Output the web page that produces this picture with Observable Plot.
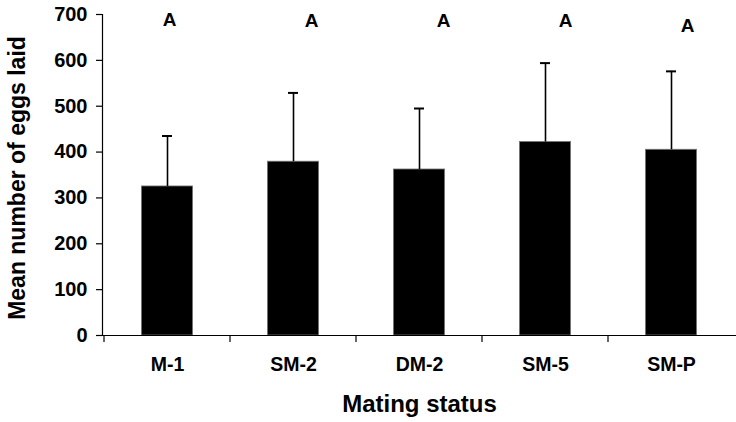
<!DOCTYPE html>
<html>
<head>
<meta charset="utf-8">
<script src="https://cdn.jsdelivr.net/npm/d3@7"></script>
<script src="https://cdn.jsdelivr.net/npm/@observablehq/plot@0.6"></script>
<style>
  html, body { margin: 0; padding: 0; background: #fff; }
  #chart svg { display: block; }
</style>
</head>
<body>
<div id="chart"></div>
<script>
// ---- data ----
const categories = ["M-1", "SM-2", "DM-2", "SM-5", "SM-P"];
const means = [325, 379, 362, 422, 405];
const upperErrors = [435, 529, 495, 594, 576];
const letters = ["A", "A", "A", "A", "A"];
const letterValues = [688, 687, 685, 685, 675];
const yTicks = [0, 100, 200, 300, 400, 500, 600, 700];

// ---- layout (not data) ----
const letterShift = [2, 18, 24, 20, 16];
const font = "'Liberation Sans', Arial, Helvetica, sans-serif";

const rows = categories.map((c, i) => ({
  category: c, mean: means[i], upper: upperErrors[i],
  letter: letters[i], letterY: letterValues[i]
}));

// boundary ticks under the x axis, at band edges
function boundaryTicks(index, scales, values, dimensions) {
  const g = d3.create("svg:g");
  const y0 = scales.y(0);
  for (const c of categories) {
    const xs = scales.x(c);
    g.append("line")
      .attr("x1", xs).attr("x2", xs)
      .attr("y1", y0).attr("y2", y0 + 7)
      .attr("stroke", "#000").attr("stroke-width", 1.2);
  }
  return g.node();
}

const chart = Plot.plot({
  width: 736,
  height: 422,
  marginLeft: 102,
  marginRight: 0,
  marginTop: 14,
  marginBottom: 87,
  style: { fontFamily: font, fontWeight: "bold", background: "#fff", color: "#000" },
  x: { type: "band", domain: categories, padding: 0 },
  y: { domain: [0, 700] },
  marks: [
    Plot.frame({ anchor: "left", stroke: "#000", strokeWidth: 1.2 }),
    Plot.axisY({ ticks: yTicks, tickSize: 6, tickPadding: 9, fontSize: 20, fontWeight: "bold", label: null, strokeWidth: 1.2 }),
    Plot.axisX({ tickSize: 0, tickPadding: 22, fontSize: 19.5, fontWeight: "bold", label: null }),
    Plot.barY(rows, { x: "category", y: "mean", fill: "#000", stroke: "#777", strokeWidth: 0.8, insetLeft: 37.4, insetRight: 37.4 }),
    Plot.ruleX(rows, { x: "category", y1: "mean", y2: "upper", stroke: "#000", strokeWidth: 1.6 }),
    Plot.tickY(rows, { x: "category", y: "upper", stroke: "#000", strokeWidth: 2, insetLeft: 58, insetRight: 58 }),
    Plot.ruleY([0], { stroke: "#000", strokeWidth: 1.2 }),
    boundaryTicks,
    ...rows.map((r, i) => Plot.text([r], { x: "category", y: "letterY", text: "letter", dx: letterShift[i], fontSize: 19, fontWeight: "bold", lineAnchor: "middle", fill: "#000" })),
    Plot.text(["Mean number of eggs laid"], { frameAnchor: "left", dx: -85, dy: 3, rotate: -90, fontSize: 23, fontWeight: "bold", textAnchor: "middle", lineAnchor: "middle", fill: "#000" }),
    Plot.text(["Mating status"], { frameAnchor: "bottom", dy: 69, fontSize: 24, fontWeight: "bold", textAnchor: "middle", lineAnchor: "middle", fill: "#000" })
  ]
});
document.getElementById("chart").appendChild(chart);
</script>
</body>
</html>
